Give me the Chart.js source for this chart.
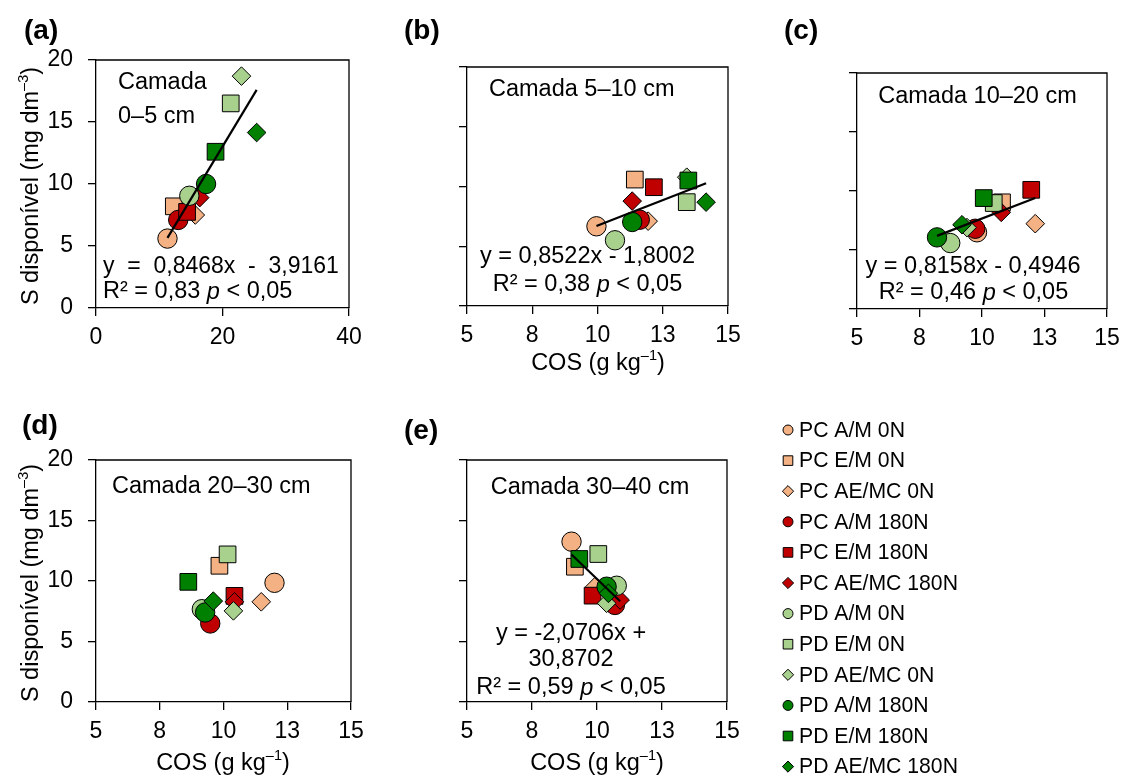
<!DOCTYPE html>
<html lang="pt-BR">
<head>
<meta charset="utf-8">
<title>S disponível x COS</title>
<script src="https://cdn.jsdelivr.net/npm/chart.js@4.4.1/dist/chart.umd.min.js"></script>
<style>
  html, body { margin: 0; padding: 0; background: #fff; }
  #pagina { position: relative; width: 1128px; height: 778px; overflow: hidden; }
  #pagina canvas { position: absolute; left: 0; top: 0; }
</style>
</head>
<body>
<div id="pagina">
  <canvas id="g1" width="1128" height="778"></canvas>
  <canvas id="g2" width="1128" height="778"></canvas>
  <canvas id="g3" width="1128" height="778"></canvas>
  <canvas id="g4" width="1128" height="778"></canvas>
  <canvas id="g5" width="1128" height="778"></canvas>
</div>
<script>
// tratamentos (mesma ordem em todas as camadas)
const series = ['PC A/M 0N', 'PC E/M 0N', 'PC AE/MC 0N', 'PC A/M 180N', 'PC E/M 180N', 'PC AE/MC 180N',
                'PD A/M 0N', 'PD E/M 0N', 'PD AE/MC 0N', 'PD A/M 180N', 'PD E/M 180N', 'PD AE/MC 180N'];

// COS (g kg-1) e S disponivel (mg dm-3) por camada
const cos0_5 = [11.3, 12.3, 15.7, 13.0, 14.4, 16.4, 14.75, 21.3, 23.0, 17.4, 18.9, 25.4];
const s0_5   = [5.6, 8.2, 7.5, 7.1, 7.75, 8.9, 9.05, 16.5, 18.7, 10.0, 12.6, 14.15];

const cos5_10 = [9.96, 11.43, 11.94, 11.62, 12.16, 11.33, 10.67, 13.42, 13.42, 11.33, 13.48, 14.16];
const s5_10   = [6.67, 10.58, 7.1, 7.22, 9.94, 8.78, 5.5, 8.69, 10.78, 7.03, 10.5, 8.69];

const cos10_20 = [9.8, 10.8, 12.13, 9.73, 11.97, 10.77, 8.73, 10.47, 9.4, 8.2, 10.07, 9.2];
const s10_20   = [6.5, 9.04, 7.23, 6.8, 10.1, 8.19, 5.59, 8.98, 6.9, 6.07, 9.4, 7.14];

const cos20_30 = [12.0, 9.84, 11.48, 9.48, 10.43, 10.43, 9.15, 10.16, 10.39, 9.28, 8.62, 9.6];
const s20_30   = [9.85, 11.26, 8.28, 6.49, 8.77, 8.28, 7.67, 12.2, 7.53, 7.4, 9.93, 8.34];

const cos30_40 = [9.02, 9.15, 9.92, 10.69, 9.83, 10.89, 10.76, 10.05, 10.37, 10.37, 9.32, 10.44];
const s30_40   = [13.25, 11.18, 9.53, 8.02, 8.79, 8.43, 9.61, 12.23, 8.16, 9.53, 11.82, 8.98];

// retas de regressao (inclinacao, intercepto)
const inclinacoes = [0.8468, 0.8522, 0.8158, null, -2.0706];
const interceptos = [-3.9161, -1.8002, -0.4946, null, 30.8702];

// estilos
const cores = ['#F4B183', '#F4B183', '#F4B183', '#C00000', '#C00000', '#C00000',
               '#A9D18E', '#A9D18E', '#A9D18E', '#008000', '#008000', '#008000'];
const formas = ['circle', 'rect', 'rectRot', 'circle', 'rect', 'rectRot',
                'circle', 'rect', 'rectRot', 'circle', 'rect', 'rectRot'];
const raios = { circle: 9.7, rect: 11.8, rectRot: 9.3 };

const FONTE = "'Liberation Sans', Arial, sans-serif";
const LARG_Y = 60, ALT_X = 40;

// desenha texto com partes (sobrescrito / italico / negrito)
let textoRico = (ctx, partes, x, y, tam, alinhar) => {
    let pecas = partes.map(p => typeof p === 'string' ? { t: p } : p);
    let larguras = pecas.map(p => {
        ctx.font = fontePeca(p, tam);
        return ctx.measureText(p.t).width;
    });
    let total = larguras.reduce((a, b) => a + b, 0);
    let cx = alinhar === 'center' ? x - total / 2 : (alinhar === 'right' ? x - total : x);
    ctx.textAlign = 'left';
    ctx.textBaseline = 'middle';
    ctx.fillStyle = '#000';
    pecas.forEach((p, i) => {
        ctx.font = fontePeca(p, tam);
        ctx.fillText(p.t, cx, p.sup ? y - tam * 0.36 : y);
        cx += larguras[i];
    });
};

let fontePeca = (p, tam) => {
    let t = p.sup ? tam * 0.62 : tam;
    return (p.it ? 'italic ' : '') + (p.b ? 'bold ' : '') + t + 'px ' + FONTE;
};

let desenharTextos = (ctx, textos) => {
    for (let tx of textos) {
        ctx.save();
        if (tx.rot) {
            ctx.translate(tx.x, tx.y);
            ctx.rotate(-Math.PI / 2);
            textoRico(ctx, tx.partes, 0, 0, tx.tam, tx.al);
        } else {
            textoRico(ctx, tx.partes, tx.x, tx.y, tx.tam, tx.al);
        }
        ctx.restore();
    }
};

let marcador = (ctx, forma, x, y, r, cor) => {
    ctx.beginPath();
    if (forma === 'circle') {
        ctx.arc(x, y, r, 0, Math.PI * 2);
    } else if (forma === 'rect') {
        ctx.rect(x - r, y - r, 2 * r, 2 * r);
    } else {
        ctx.moveTo(x - r, y); ctx.lineTo(x, y - r); ctx.lineTo(x + r, y); ctx.lineTo(x, y + r);
        ctx.closePath();
    }
    ctx.fillStyle = cor;
    ctx.fill();
    ctx.lineWidth = 1;
    ctx.strokeStyle = '#000';
    ctx.stroke();
};

const legendaPlugin = {
    id: 'legendaLateral',
    afterDraw(chart) {
        let ctx = chart.ctx;
        ctx.save();
        series.forEach((nome, i) => {
            let y = 430 + i * 30.6;
            let r = formas[i] === 'circle' ? 5 : (formas[i] === 'rect' ? 4.8 : 5.6);
            marcador(ctx, formas[i], 788, y, r, cores[i]);
            textoRico(ctx, [nome], 799, y + 1, 21.2, 'left');
        });
        ctx.restore();
    }
};

const tituloY = ['S disponível (mg dm', { t: '–3', sup: true }, ')'];
const tituloX = ['COS (g kg', { t: '–1', sup: true }, ')'];

let painel = (id, area, xs, ys, cfg) => {
    let datasets = series.map((nome, i) => ({
        label: nome,
        data: [{ x: xs[i], y: ys[i] }],
        pointStyle: formas[i],
        pointRadius: raios[formas[i]],
        pointHoverRadius: raios[formas[i]],
        backgroundColor: cores[i],
        borderColor: '#000',
        borderWidth: 1,
        order: 20 - i
    }));
    if (cfg.a !== null) {
        let xmin = Math.min(...xs), xmax = Math.max(...xs);
        datasets.push({
            label: 'reta',
            data: [{ x: xmin, y: cfg.a * xmin + cfg.b }, { x: xmax, y: cfg.a * xmax + cfg.b }],
            showLine: true,
            borderColor: '#000',
            borderWidth: 2.2,
            pointRadius: 0,
            order: 0
        });
    }
    let fonteTick = { family: FONTE, size: 23 };
    let grade = { drawOnChartArea: false, drawTicks: true, tickLength: 8, color: '#000', lineWidth: 1.3 };
    let borda = { display: true, color: '#000', width: 1.3 };
    let plugins = [{
        id: 'moldura',
        beforeDatasetsDraw(chart) {
            let c = chart.ctx, ar = chart.chartArea;
            c.save();
            c.strokeStyle = '#000';
            c.lineWidth = 1.3;
            c.beginPath();
            c.moveTo(ar.left, ar.top); c.lineTo(ar.right, ar.top); c.lineTo(ar.right, ar.bottom);
            c.stroke();
            c.restore();
        }
    }, {
        id: 'textos',
        afterDraw(chart) { desenharTextos(chart.ctx, cfg.textos); }
    }];
    if (cfg.legenda) plugins.push(legendaPlugin);

    return new Chart(document.getElementById(id), {
        type: 'scatter',
        data: { datasets },
        options: {
            responsive: false,
            animation: false,
            events: [],
            layout: { padding: { left: area.l - LARG_Y, top: area.t, right: 1128 - area.r, bottom: 778 - area.b - ALT_X } },
            plugins: { legend: { display: false }, tooltip: { enabled: false } },
            scales: {
                x: {
                    type: 'linear', min: cfg.xmin, max: cfg.xmax,
                    ticks: { stepSize: cfg.passo, autoSkip: false, maxRotation: 0, font: fonteTick, color: '#000', padding: 8,
                             callback: v => Math.round(v) },
                    grid: grade, border: borda,
                    afterFit: s => { s.height = ALT_X; }
                },
                y: {
                    type: 'linear', min: 0, max: 20,
                    ticks: { stepSize: 5, font: fonteTick, color: '#000', padding: 15,
                             callback: v => cfg.rotulosY ? v : '' },
                    grid: grade, border: borda,
                    afterFit: s => { s.width = LARG_Y; }
                }
            }
        },
        plugins
    });
};

const T = 23.5;

painel('g1', { l: 96, t: 60, r: 349, b: 308 }, cos0_5, s0_5, {
    xmin: 0, xmax: 40, passo: 20, rotulosY: true, a: inclinacoes[0], b: interceptos[0],
    textos: [
        { partes: [{ t: '(a)', b: true }], x: 24, y: 31, tam: 28, al: 'left' },
        { partes: tituloY, x: 32, y: 186, tam: T, al: 'center', rot: true },
        { partes: ['Camada'], x: 118, y: 83, tam: T, al: 'left' },
        { partes: ['0–5 cm'], x: 118, y: 117, tam: T, al: 'left' },
        { partes: ['y  =  0,8468x  -  3,9161'], x: 103, y: 267, tam: 23, al: 'left' },
        { partes: ['R² = 0,83 ', { t: 'p', it: true }, ' < 0,05'], x: 103, y: 292, tam: T, al: 'left' }
    ]
});

painel('g2', { l: 467, t: 67, r: 728, b: 306 }, cos5_10, s5_10, {
    xmin: 5, xmax: 15, passo: 2.5, rotulosY: false, a: inclinacoes[1], b: interceptos[1],
    textos: [
        { partes: [{ t: '(b)', b: true }], x: 404, y: 31, tam: 28, al: 'left' },
        { partes: tituloX, x: 598, y: 364, tam: T, al: 'center' },
        { partes: ['Camada 5–10 cm'], x: 489, y: 90, tam: T, al: 'left' },
        { partes: ['y = 0,8522x - 1,8002'], x: 587.5, y: 257, tam: T, al: 'center' },
        { partes: ['R² = 0,38 ', { t: 'p', it: true }, ' < 0,05'], x: 587.5, y: 285, tam: T, al: 'center' }
    ]
});

painel('g3', { l: 857, t: 73, r: 1107, b: 309 }, cos10_20, s10_20, {
    xmin: 5, xmax: 15, passo: 2.5, rotulosY: false, a: inclinacoes[2], b: interceptos[2],
    textos: [
        { partes: [{ t: '(c)', b: true }], x: 784, y: 31, tam: 28, al: 'left' },
        { partes: ['Camada 10–20 cm'], x: 977.5, y: 97, tam: T, al: 'center' },
        { partes: ['y = 0,8158x - 0,4946'], x: 973, y: 267, tam: T, al: 'center' },
        { partes: ['R² = 0,46 ', { t: 'p', it: true }, ' < 0,05'], x: 973.5, y: 293, tam: T, al: 'center' }
    ]
});

painel('g4', { l: 96, t: 460, r: 351, b: 702 }, cos20_30, s20_30, {
    xmin: 5, xmax: 15, passo: 2.5, rotulosY: true, a: inclinacoes[3], b: interceptos[3],
    textos: [
        { partes: [{ t: '(d)', b: true }], x: 22, y: 426, tam: 28, al: 'left' },
        { partes: tituloY, x: 32, y: 583, tam: T, al: 'center', rot: true },
        { partes: tituloX, x: 223, y: 764, tam: T, al: 'center' },
        { partes: ['Camada 20–30 cm'], x: 112, y: 487, tam: T, al: 'left' }
    ]
});

painel('g5', { l: 467, t: 460, r: 727, b: 702 }, cos30_40, s30_40, {
    xmin: 5, xmax: 15, passo: 2.5, rotulosY: false, a: inclinacoes[4], b: interceptos[4], legenda: true,
    textos: [
        { partes: [{ t: '(e)', b: true }], x: 404, y: 431, tam: 28, al: 'left' },
        { partes: tituloX, x: 597, y: 764, tam: T, al: 'center' },
        { partes: ['Camada 30–40 cm'], x: 590, y: 488, tam: T, al: 'center' },
        { partes: ['y = -2,0706x +'], x: 571, y: 634, tam: T, al: 'center' },
        { partes: ['30,8702'], x: 571, y: 660, tam: T, al: 'center' },
        { partes: ['R² = 0,59 ', { t: 'p', it: true }, ' < 0,05'], x: 571, y: 688, tam: T, al: 'center' }
    ]
});
</script>
</body>
</html>
